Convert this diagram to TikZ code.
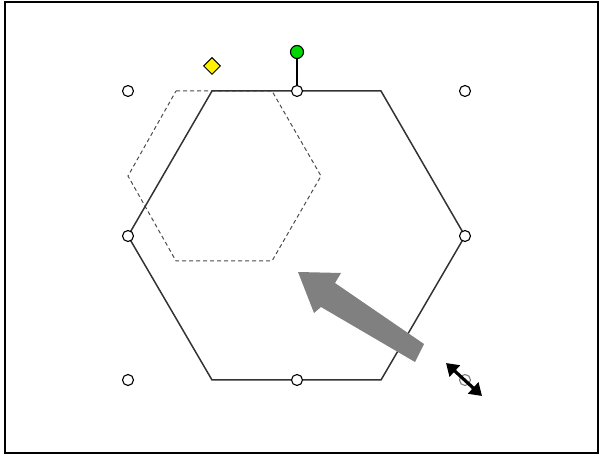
\documentclass[tikz,border=0pt]{standalone}
\usetikzlibrary{shapes.geometric,arrows.meta}
\begin{document}
\begin{tikzpicture}[x=1pt,y=-1pt,
  handle/.style={circle,draw=black,fill=white,line width=1.1pt,minimum size=11pt,inner sep=0pt},
  hexline/.style={line width=1.5pt,draw=black!80},
  ghost/.style={line width=1pt,draw=black!70,dash pattern=on 4pt off 3pt},
  bigarrow/.style={fill=black!50,draw=none},
  cursorarrow/.style={line width=3.2pt,{Triangle[length=12pt,width=15pt]}-{Triangle[length=12pt,width=15pt]}}]
\useasboundingbox (0,0) rectangle (600,454);
\draw[line width=2pt] (5,2) rectangle (598,453);
% ghost hexagon
\coordinate (g1) at (176,91); \coordinate (g2) at (272,91); \coordinate (g3) at (321,176);
\coordinate (g4) at (272,261); \coordinate (g5) at (176,261); \coordinate (g6) at (128,176);
\draw[ghost] (g1) -- (g2) -- (g3) -- (g4) -- (g5) -- (g6) -- cycle;
% main hexagon
\coordinate (h1) at (212,91); \coordinate (h2) at (381,91); \coordinate (h3) at (465,236);
\coordinate (h4) at (381,380); \coordinate (h5) at (212,380); \coordinate (h6) at (128,236);
\draw[hexline] (h1) -- (h2) -- (h3) -- (h4) -- (h5) -- (h6) -- cycle;
% big gray arrow
\fill[bigarrow] (424,344) -- (335,283) -- (341,273) -- (298,272) -- (314,313) -- (321,307) -- (415,362) -- cycle;
% rotation handle
\node[circle,draw=black,fill=green!85!black,line width=1.1pt,minimum size=13pt,inner sep=0pt] (rot) at (297,52) {};
\node[handle] (tm) at (297,91) {};
\draw[line width=1.5pt] (rot) -- (tm);
% yellow adjustment diamond
\node[diamond,draw=black,fill=yellow,line width=1pt,minimum size=17pt,inner sep=0pt] (adj) at (212,66) {};
% selection handles
\node[handle] (tl) at (128,91) {};
\node[handle] (tr) at (465,91) {};
\node[handle] (ml) at (128,236) {};
\node[handle] (mr) at (465,236) {};
\node[handle] (bl) at (128,380) {};
\node[handle] (bm) at (297,380) {};
\node[handle,draw=black!50] (br) at (465,380) {};
% resize cursor
\coordinate (c1) at (446,363); \coordinate (c2) at (482,396);
\draw[cursorarrow] (c1) -- (c2);
\end{tikzpicture}
\end{document}
